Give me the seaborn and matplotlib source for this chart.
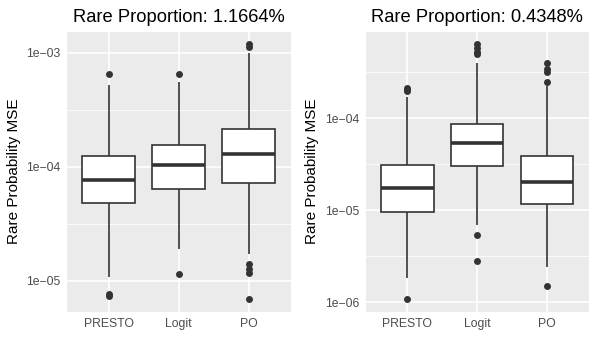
import numpy as np
import pandas as pd
import matplotlib
matplotlib.use("Agg")
import matplotlib.pyplot as plt
import matplotlib.ticker as mticker
import seaborn as sns

methods = ["PRESTO", "Logit", "PO"]
titles = ["Rare Proportion: 1.1664%", "Rare Proportion: 0.4348%"]

# box summaries (per method): whisker low, Q1, median, Q3, whisker high
whisker_lo_1 = [1.08e-5, 1.9e-5, 1.71e-5]
q1_1 = [4.8e-5, 6.3e-5, 7.2e-5]
median_1 = [7.7e-5, 1.03e-4, 1.28e-4]
q3_1 = [1.25e-4, 1.56e-4, 2.12e-4]
whisker_hi_1 = [5.2e-4, 5.5e-4, 1.0e-3]
outliers_1 = [[6.45e-4, 7.6e-6, 7.4e-6],
              [6.45e-4, 1.15e-5],
              [1.18e-3, 1.13e-3, 1.41e-5, 1.26e-5, 1.16e-5, 6.9e-6]]

whisker_lo_2 = [1.84e-6, 6.97e-6, 2.4e-6]
q1_2 = [9.46e-6, 2.99e-5, 1.17e-5]
median_2 = [1.73e-5, 5.4e-5, 2.02e-5]
q3_2 = [3.11e-5, 8.74e-5, 3.9e-5]
whisker_hi_2 = [1.71e-4, 3.98e-4, 2.24e-4]
outliers_2 = [[2.11e-4, 2.05e-4, 1.98e-4, 1.08e-6],
              [6.35e-4, 5.83e-4, 5.24e-4, 5.0e-4, 5.42e-6, 2.79e-6],
              [3.95e-4, 3.45e-4, 3.2e-4, 2.48e-4, 1.48e-6]]


def box_table(wlo, q1, med, q3, whi, n=50):
    rows = []
    for i, m in enumerate(methods):
        vals = [wlo[i]] + [q1[i]] * n + [med[i]] * n + [q3[i]] * n + [whi[i]]
        rows += [(m, v) for v in vals]
    return pd.DataFrame(rows, columns=["method", "mse"])


def outlier_table(outs):
    rows = [(m, v) for m, vs in zip(methods, outs) for v in vs]
    return pd.DataFrame(rows, columns=["method", "mse"])


sns.set_theme(style="darkgrid", rc={
    "axes.facecolor": "#EBEBEB",
    "grid.color": "white",
})
plt.rcParams["font.family"] = ["Liberation Sans", "DejaVu Sans"]

fig = plt.figure(figsize=(5.96, 3.38), dpi=100)
ax1 = fig.add_axes([66.7 / 596, 26.3 / 338, 224 / 596, 280 / 338])
ax2 = fig.add_axes([365.5 / 596, 26.3 / 338, 223.2 / 596, 280 / 338])

panels = [
    (ax1, box_table(whisker_lo_1, q1_1, median_1, q3_1, whisker_hi_1), outlier_table(outliers_1), titles[0]),
    (ax2, box_table(whisker_lo_2, q1_2, median_2, q3_2, whisker_hi_2), outlier_table(outliers_2), titles[1]),
]

line_col = "#333333"
for ax, box_df, out_df, title in panels:
    ax.set_yscale("log")
    sns.boxplot(data=box_df, x="method", y="mse", order=methods, ax=ax,
                whis=(0, 100), width=0.75, color="white", linecolor=line_col,
                linewidth=1.2, fliersize=0, showcaps=False,
                medianprops={"linewidth": 2.6, "color": line_col})
    sns.stripplot(data=out_df, x="method", y="mse", order=methods, ax=ax,
                  jitter=False, color=line_col, size=5, linewidth=0)

    allv = np.log10(np.concatenate([box_df["mse"].values, out_df["mse"].values]))
    lo, hi = allv.min(), allv.max()
    pad = 0.05 * (hi - lo)
    ax.set_ylim(10 ** (lo - pad), 10 ** (hi + pad))
    ax.set_xlim(-0.6, 2.6)

    majors = [10.0 ** k for k in range(-7, -1)]
    minors = [10.0 ** (k + 0.5) for k in range(-7, -1)]
    ax.yaxis.set_major_locator(mticker.FixedLocator(majors))
    ax.yaxis.set_minor_locator(mticker.FixedLocator(minors))
    ax.yaxis.set_major_formatter(mticker.FuncFormatter(
        lambda v, p: "1e\u2212%02d" % round(-np.log10(v))))
    ax.yaxis.set_minor_formatter(mticker.NullFormatter())

    ax.grid(True, which="major", color="white", linewidth=1.2)
    ax.grid(True, which="minor", axis="y", color="white", linewidth=0.6)
    ax.set_axisbelow(True)
    for s in ax.spines.values():
        s.set_visible(False)

    ax.tick_params(axis="both", which="major", length=2.5, width=0.8, color=line_col,
                   labelsize=8.8, labelcolor="#4D4D4D", pad=2)
    ax.tick_params(axis="y", which="minor", length=0)
    ax.set_xlabel("")
    ax.set_ylabel("Rare Probability MSE", fontsize=11, color="black", labelpad=4)
    ax.set_title(title, fontsize=13.2, color="black", pad=7)

fig.savefig("out.png", dpi=100)
